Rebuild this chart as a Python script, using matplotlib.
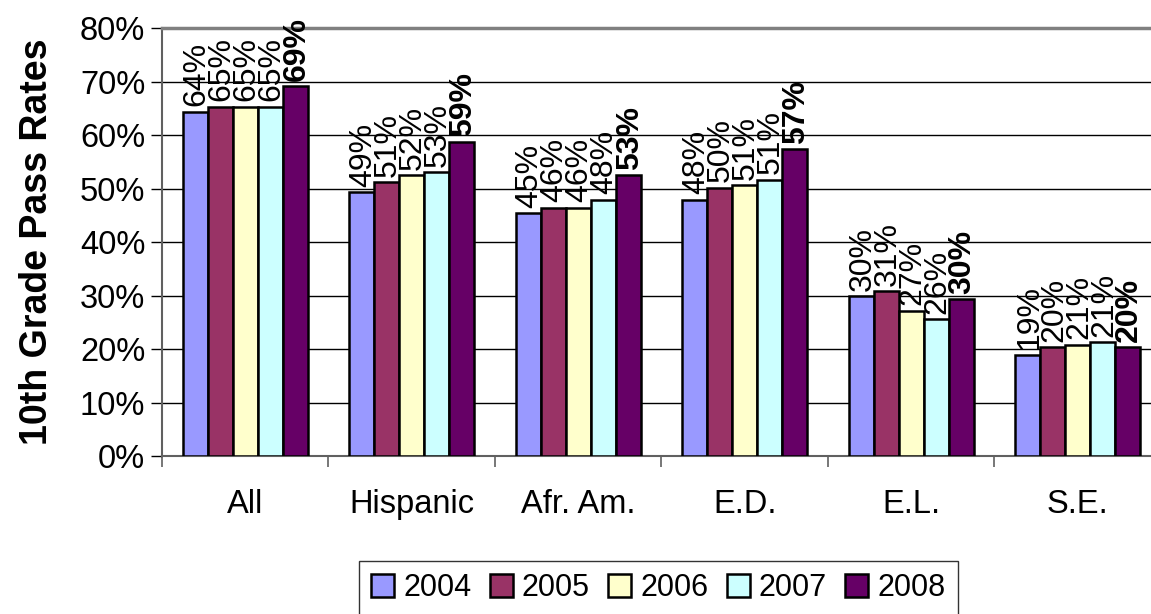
import numpy as np
import matplotlib
matplotlib.use("Agg")
import matplotlib.pyplot as plt

plt.rcParams["font.family"] = ["Liberation Sans", "DejaVu Sans"]

groups = ["All", "Hispanic", "Afr. Am.", "E.D.", "E.L.", "S.E."]
years = ["2004", "2005", "2006", "2007", "2008"]
rates_2004 = [64.3, 49.3, 45.4, 47.9, 29.9, 18.9]
rates_2005 = [65.3, 51.2, 46.4, 50.1, 30.8, 20.3]
rates_2006 = [65.3, 52.5, 46.4, 50.6, 27.1, 20.8]
rates_2007 = [65.3, 53.0, 47.9, 51.6, 25.6, 21.3]
rates_2008 = [69.1, 58.7, 52.5, 57.3, 29.3, 20.3]
labels_2004 = ["64%", "49%", "45%", "48%", "30%", "19%"]
labels_2005 = ["65%", "51%", "46%", "50%", "31%", "20%"]
labels_2006 = ["65%", "52%", "46%", "51%", "27%", "21%"]
labels_2007 = ["65%", "53%", "48%", "51%", "26%", "21%"]
labels_2008 = ["69%", "59%", "53%", "57%", "30%", "20%"]

series = [rates_2004, rates_2005, rates_2006, rates_2007, rates_2008]
labels = [labels_2004, labels_2005, labels_2006, labels_2007, labels_2008]
colors = ["#9999FF", "#993366", "#FFFFCC", "#CCFFFF", "#660066"]

fig = plt.figure(figsize=(11.51, 6.14), dpi=100)
ax = fig.add_axes([0.1407, 0.2573, 0.8593, 0.697])

x = np.arange(len(groups))
w = 0.15
for j, (vals, labs) in enumerate(zip(series, labels)):
    pos = x + (j - 2) * w
    ax.bar(pos, vals, width=w, color=colors[j], edgecolor="black",
           linewidth=1.8, label=years[j], zorder=3)
    for px, v, t in zip(pos, vals, labs):
        ax.annotate(t, (px, v), xytext=(1, 4), textcoords="offset points",
                    rotation=90, ha="center", va="bottom", fontsize=23,
                    fontweight="bold" if j == 4 else "normal", zorder=4)

ax.set_ylim(0, 80)
ax.set_xlim(-0.5, 5.44)
ax.set_yticks(np.arange(0, 81, 10))
ax.set_yticklabels([f"{v}%" for v in range(0, 81, 10)], fontsize=23.5)
ax.yaxis.grid(True, color="black", linewidth=1.0, zorder=0)
ax.set_axisbelow(True)

ax.set_xticks(np.arange(-0.5, 5.0, 1.0))
ax.set_xticklabels([])
ax.set_xticks(x, minor=True)
ax.set_xticklabels(groups, minor=True, fontsize=23.5)
ax.tick_params(axis="x", which="major", length=8, color="#606060", width=1.2)
ax.tick_params(axis="x", which="minor", length=0, pad=24)
ax.tick_params(axis="y", length=8, color="black", width=1.0, pad=4)

for s in ["left", "bottom"]:
    ax.spines[s].set_color("#606060")
    ax.spines[s].set_linewidth(1.5)
ax.spines["top"].set_color("#808080")
ax.spines["top"].set_linewidth(2.5)
ax.spines["right"].set_visible(False)

ax.set_ylabel("10th Grade Pass Rates", fontsize=27, fontweight="bold")
ax.yaxis.set_label_coords(-0.108, 0.5)

leg = fig.legend(loc="center", bbox_to_anchor=(0.572, 0.042), ncol=5,
                 fontsize=22, frameon=True, fancybox=False, edgecolor="black",
                 handlelength=0.75, handleheight=0.75, handletextpad=0.3,
                 columnspacing=0.6, borderpad=0.4)
leg.get_frame().set_linewidth(1.0)

fig.savefig("out.png", dpi=100)
